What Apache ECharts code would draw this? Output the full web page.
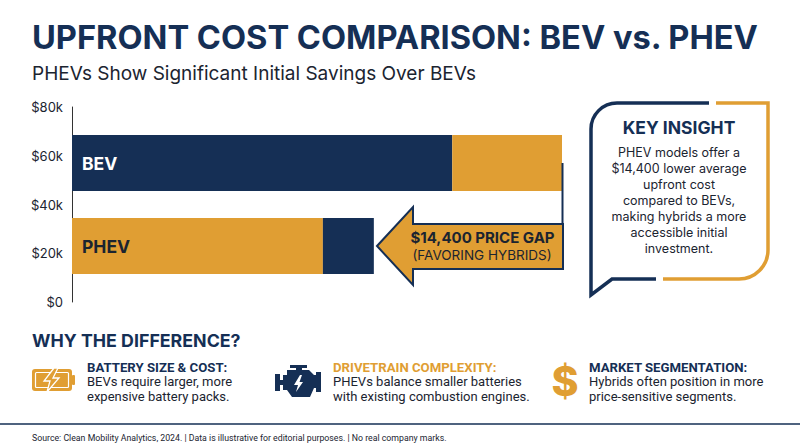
<!DOCTYPE html>
<html><head><meta charset="utf-8">
<script src="https://cdn.jsdelivr.net/npm/echarts@6/dist/echarts.min.js"></script>
<style>html,body{margin:0;padding:0;background:#fff}#c{width:800px;height:447px}</style>
</head><body><div id="c"></div>
<script>
const categories = ['PHEV', 'BEV'];
const firstSegment = [19.2, 29.1];
const secondSegment = [3.9, 8.4];
const costTicks = [0, 20, 40, 60, 80];
const insightLines = ['PHEV models offer a', '$14,400 lower average', 'upfront cost', 'compared to BEVs,', 'making hybrids a more', 'accessible initial', 'investment.'];
const reasons = [
  { head: 'BATTERY SIZE & COST:', a: 'BEVs require larger, more', b: 'expensive battery packs.', x: 87, gold: false },
  { head: 'DRIVETRAIN COMPLEXITY:', a: 'PHEVs balance smaller batteries', b: 'with existing combustion engines.', x: 333, gold: true },
  { head: 'MARKET SEGMENTATION:', a: 'Hybrids often position in more', b: 'price-sensitive segments.', x: 589, gold: false }
];
const NAVY = '#152F55', GOLD = '#E09E33', INK = '#1B2430';
const F = 'Inter', R = 'Roboto';

const txt = (x, y, text, font, fill, align) => ({ type: 'text', x, y, silent: true, style: { text, font, fill, align: align || 'left', verticalAlign: 'middle' } });
const pl = (points, stroke, lineWidth) => ({ type: 'polyline', shape: { points }, style: { stroke, lineWidth, fill: 'none', lineJoin: 'miter' } });
const arc = (cx, cy, r, a0, a1, stroke, lineWidth) => ({ type: 'arc', shape: { cx, cy, r, startAngle: a0, endAngle: a1, clockwise: true }, style: { stroke, lineWidth, fill: 'none' } });
const g = [];
g.push(txt(32, 37, 'UPFRONT COST COMPARISON: BEV vs. PHEV', '700 32.6px ' + F, NAVY));
g.push(txt(32, 73, 'PHEVs Show Significant Initial Savings Over BEVs', '400 19px ' + F, INK));
// gap connector and arrow
g.push({ type: 'line', z: 5, shape: { x1: 562.5, y1: 163, x2: 562.5, y2: 224 }, style: { stroke: NAVY, lineWidth: 2 } });
g.push({ type: 'polygon', z: 6, shape: { points: [[377, 246], [413, 207], [413, 224], [563, 224], [563, 269], [413, 269], [413, 285]] }, style: { fill: GOLD, stroke: NAVY, lineWidth: 2 } });
g.push(Object.assign(txt(482.5, 237, '$14,400 PRICE GAP', '700 15px ' + F, INK, 'center'), { z: 7 }));
g.push(Object.assign(txt(482, 255, '(FAVORING HYBRIDS)', '400 13.5px ' + F, INK, 'center'), { z: 7 }));
// callout
const P = Math.PI;
g.push(pl([[709, 103], [617, 103]], NAVY, 3.5));
g.push(arc(617, 129, 26, P, 1.5 * P, NAVY, 3.5));
g.push(pl([[591, 129], [591, 295], [612, 279], [656, 279]], NAVY, 3.5));
g.push(pl([[716, 103], [768, 103], [768, 250]], GOLD, 3.5));
g.push(arc(739, 250, 29, 0, 0.5 * P, GOLD, 3.5));
g.push(pl([[739, 279], [663, 279]], GOLD, 3.5));
g.push(txt(679, 127, 'KEY INSIGHT', '700 17.5px ' + F, NAVY, 'center'));
insightLines.forEach((l, i) => g.push(txt(679, 152 + i * 16, l, '400 12.5px ' + F, INK, 'center')));
// reasons
g.push(txt(32, 340, 'WHY THE DIFFERENCE?', '700 17.8px ' + F, NAVY));
reasons.forEach(r => {
  g.push(txt(r.x, 367, r.head, '700 13.2px ' + R, r.gold ? GOLD : NAVY));
  g.push(txt(r.x, 381.5, r.a, '400 13px ' + R, INK));
  g.push(txt(r.x, 396, r.b, '400 13px ' + R, INK));
});
// battery icon
g.push({ type: 'rect', shape: { x: 32, y: 369, width: 40, height: 22, r: 3 }, style: { fill: GOLD } });
g.push({ type: 'rect', shape: { x: 72, y: 375, width: 3, height: 10, r: 1 }, style: { fill: GOLD } });
g.push({ type: 'rect', shape: { x: 35.5, y: 372.5, width: 33, height: 15, r: 1 }, style: { fill: GOLD, stroke: '#fff', lineWidth: 1.2 } });
g.push({ type: 'polygon', shape: { points: [[54, 368], [44, 381], [50, 381], [47, 392], [59, 378], [53, 378], [58, 368]] }, style: { fill: GOLD, stroke: '#fff', lineWidth: 1.3 } });
// engine icon
g.push({ type: 'polygon', shape: { points: [[290, 365], [307, 365], [307, 368], [302, 368], [302, 370], [309, 370], [314, 375], [316, 375], [316, 372], [321, 372], [321, 392], [316, 392], [316, 388], [314, 388], [310, 397], [292, 397], [287, 390], [283, 390], [283, 385], [280, 385], [280, 391], [275, 391], [275, 374], [280, 374], [280, 380], [283, 380], [283, 375], [287, 375], [287, 370], [296, 370], [296, 368], [290, 368]] }, style: { fill: NAVY } });
g.push({ type: 'polygon', shape: { points: [[300, 375], [294, 385], [298, 385], [296, 392], [303, 382], [299.5, 382], [302, 375]] }, style: { fill: '#fff' } });
g.push(txt(565, 381, '$', '800 41px ' + F, GOLD, 'center'));
// footer
g.push({ type: 'line', shape: { x1: 0, y1: 424, x2: 800, y2: 424 }, style: { stroke: NAVY, lineWidth: 1.5 } });
g.push(txt(32, 437.5, 'Source: Clean Mobility Analytics, 2024. | Data is illustrative for editorial purposes. | No real company marks.', '400 8.75px ' + R, INK));

const lbl = (color) => ({ show: true, formatter: '{b}', position: 'insideLeft', distance: 10, color, fontFamily: F, fontWeight: 700, fontSize: 17.5 });
const chart = echarts.init(document.getElementById('c'), null, { renderer: 'svg' });
chart.setOption({
  animation: false,
  backgroundColor: '#fff',
  grid: [
    { left: 72, width: 490, top: 107, height: 195 },
    { left: 72, width: 490, top: 121.5, height: 166 }
  ],
  xAxis: [
    { gridIndex: 0, type: 'value', min: 0, max: 37.5, show: false },
    { gridIndex: 1, type: 'value', min: 0, max: 37.5, show: false }
  ],
  yAxis: [
    { gridIndex: 0, type: 'value', min: 0, max: 80, interval: 20, position: 'left',
      axisLine: { show: true, onZero: false, lineStyle: { color: '#333', width: 1 } },
      axisTick: { show: false }, splitLine: { show: false },
      axisLabel: { margin: 9, color: INK, fontFamily: F, fontSize: 13, formatter: v => costTicks.includes(v) ? (v === 0 ? '$0' : '$' + v + 'k') : '' } },
    { gridIndex: 1, type: 'category', data: categories, show: false }
  ],
  series: [
    { type: 'bar', xAxisIndex: 1, yAxisIndex: 1, stack: 'c', barWidth: 56,
      data: firstSegment.map((v, i) => ({ value: v, itemStyle: { color: i === 0 ? GOLD : NAVY }, label: lbl(i === 0 ? INK : '#fff') })) },
    { type: 'bar', xAxisIndex: 1, yAxisIndex: 1, stack: 'c', barWidth: 56,
      data: secondSegment.map((v, i) => ({ value: v, itemStyle: { color: i === 0 ? NAVY : GOLD } })) }
  ],
  graphic: { elements: g }
});
</script></body></html>
